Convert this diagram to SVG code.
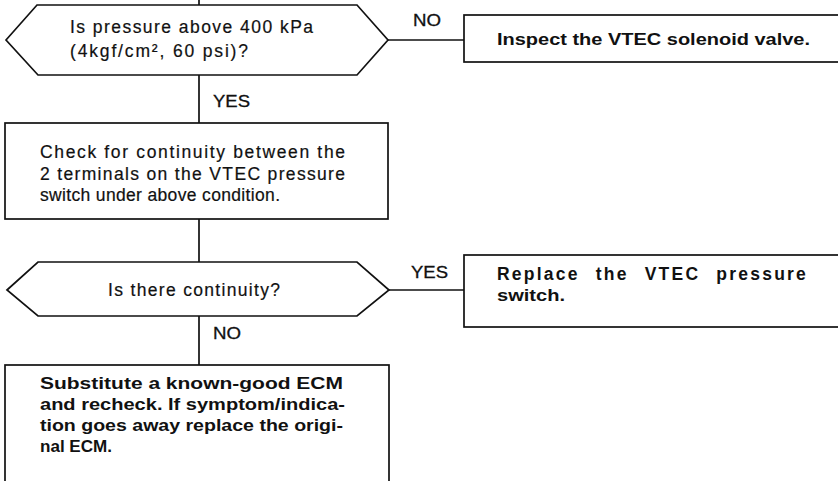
<svg xmlns="http://www.w3.org/2000/svg" width="838" height="481" viewBox="0 0 838 481">
  <style>
    .shape { fill: #ffffff; stroke: #111111; stroke-width: 1.7; }
    .wire { fill: none; stroke: #111111; stroke-width: 1.7; }
    .txt { font-family: "Liberation Sans", Arial, sans-serif; font-size: 17.5px; fill: #111111; stroke: #111111; stroke-width: 0.2; }
    .bold { font-family: "Liberation Sans", Arial, sans-serif; font-size: 16.5px; font-weight: 700; fill: #111111; }
    .bold.wide { font-size: 17.5px; letter-spacing: 2.2px; word-spacing: 9px; }
    .lbl { font-family: "Liberation Sans", Arial, sans-serif; font-size: 16px; fill: #111111; stroke: #111111; stroke-width: 0.3; }
  </style>
  <rect x="0" y="0" width="838" height="481" fill="#ffffff"/>

  <!-- connectors -->
  <g id="connectors">
    <line class="wire" x1="199" y1="0" x2="199" y2="5"/>
    <line class="wire" x1="199" y1="75" x2="199" y2="123"/>
    <line class="wire" x1="388" y1="40" x2="464" y2="40"/>
    <line class="wire" x1="199" y1="219" x2="199" y2="262"/>
    <line class="wire" x1="389" y1="290" x2="464" y2="290"/>
    <line class="wire" x1="199" y1="316" x2="199" y2="365"/>
    <text class="lbl" x="413" y="26" textLength="28" lengthAdjust="spacingAndGlyphs">NO</text>
    <text class="lbl" x="213" y="107" textLength="37" lengthAdjust="spacingAndGlyphs">YES</text>
    <text class="lbl" x="411" y="278" textLength="37" lengthAdjust="spacingAndGlyphs">YES</text>
    <text class="lbl" x="213" y="339" textLength="28" lengthAdjust="spacingAndGlyphs">NO</text>
  </g>

  <!-- decision: pressure -->
  <g id="q-pressure">
    <polygon class="shape" points="6,40 37,5 357,5 388,40 357,75 38,75"/>
    <text class="txt" x="70" y="33" textLength="243" lengthAdjust="spacing">Is pressure above 400 kPa</text>
    <text class="txt" x="70" y="57" textLength="178" lengthAdjust="spacing">(4kgf/cm², 60 psi)?</text>
  </g>

  <!-- action: solenoid valve -->
  <g id="inspect-solenoid">
    <rect class="shape" x="464" y="15" width="400" height="47"/>
    <text class="bold" x="497" y="45" textLength="313" lengthAdjust="spacingAndGlyphs">Inspect the VTEC solenoid valve.</text>
  </g>

  <!-- action: continuity check -->
  <g id="check-continuity">
    <rect class="shape" x="5" y="123" width="383" height="96"/>
    <text class="txt" x="40" y="158" textLength="305" lengthAdjust="spacing">Check for continuity between the</text>
    <text class="txt" x="40" y="180" textLength="305" lengthAdjust="spacing">2 terminals on the VTEC pressure</text>
    <text class="txt" x="40" y="201" textLength="240" lengthAdjust="spacing">switch under above condition.</text>
  </g>

  <!-- decision: continuity -->
  <g id="q-continuity">
    <polygon class="shape" points="7,290 38,262 357,262 389,290 357,316 38,316"/>
    <text class="txt" x="108" y="296" textLength="172" lengthAdjust="spacing">Is there continuity?</text>
  </g>

  <!-- action: replace switch (first line justified) -->
  <g id="replace-switch">
    <rect class="shape" x="464" y="255" width="400" height="72"/>
    <text class="bold wide" x="497" y="280" textLength="311" lengthAdjust="spacing">Replace the VTEC pressure</text>
    <text class="bold" x="497" y="301" textLength="68" lengthAdjust="spacingAndGlyphs">switch.</text>
  </g>

  <!-- action: substitute ECM -->
  <g id="substitute-ecm">
    <rect class="shape" x="5" y="365" width="384" height="130"/>
    <text class="bold" x="40" y="389" textLength="303" lengthAdjust="spacingAndGlyphs">Substitute a known-good ECM</text>
    <text class="bold" x="40" y="410" textLength="305" lengthAdjust="spacingAndGlyphs">and recheck. If symptom/indica-</text>
    <text class="bold" x="40" y="431" textLength="303" lengthAdjust="spacingAndGlyphs">tion goes away replace the origi-</text>
    <text class="bold" x="40" y="452" textLength="72" lengthAdjust="spacingAndGlyphs">nal ECM.</text>
  </g>
</svg>
